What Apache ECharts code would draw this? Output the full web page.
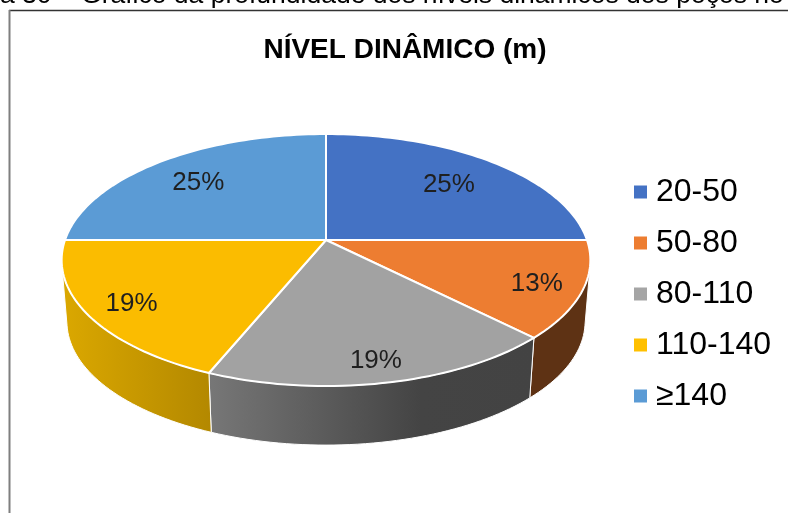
<!DOCTYPE html>
<html>
<head>
<meta charset="utf-8">
<style>
  html, body { margin: 0; padding: 0; background: #fff; }
  #main { width: 788px; height: 513px; }
</style>
<script src="https://cdn.jsdelivr.net/npm/echarts@6/dist/echarts.min.js"></script>
</head>
<body>
<div id="main"></div>
<script>
var categories = ['20-50', '50-80', '80-110', '110-140', '≥140']
var shares = [25, 12.5, 18.75, 18.75, 25]
var legendColors = ['#4472C4', '#ED7D31', '#A5A5A5', '#FFC000', '#5B9BD5']
var faceColors = ['#4472C4', '#ED7D31', '#A2A2A2', '#FBBC00', '#5B9BD5']
var caption = 'a 30 – Gráfico da profundidade dos níveis dinâmicos dos poços no'
var chartTitle = 'NÍVEL DINÂMICO (m)'

// perspective of the disc, fitted on the rim of the picture
var apexX = 326
var apexY = 240
var radiusX = 261
var radiusY = 122.8
var tilt = 0.159
var bottomApexY = 302
var bottomScale = 0.98
var sideFrom = 101
var sideTo = 259
var labelRadius = [0.72, 0.83, 0.85, 0.83, 0.75]
var total = shares.reduce(function (a, b) { return a + b }, 0)

function project(deg, r) {
  var t = deg * Math.PI / 180
  var u = Math.sin(t) * r
  var v = -Math.cos(t) * r
  var w = 1 - tilt * v
  return [apexX + radiusX * u / w, apexY + radiusY * v / w]
}

function projectBottom(deg) {
  var p = project(deg, 1)
  return [apexX + (p[0] - apexX) * bottomScale, bottomApexY + (p[1] - apexY) * bottomScale]
}

function rim(from, to, fn) {
  var pts = []
  var n = Math.max(2, Math.ceil((to - from) / 1.5))
  for (var i = 0; i <= n; i++) {
    pts.push(fn(from + (to - from) * i / n))
  }
  return pts
}

function sideFill(idx) {
  if (idx === 1) return '#5E3214'
  if (idx === 2) {
    return new echarts.graphic.LinearGradient(0, 0, 1, 0, [
      { offset: 0, color: '#777777' },
      { offset: 0.65, color: '#444444' },
      { offset: 1, color: '#434343' }
    ])
  }
  return new echarts.graphic.LinearGradient(0, 0, 1, 0, [
    { offset: 0, color: '#DBA800' },
    { offset: 1, color: '#B38800' }
  ])
}

function renderSlice(idx) {
  return function (params, api) {
    var value = api.value(0)
    var before = shares.slice(0, idx).reduce(function (a, b) { return a + b }, 0)
    var start = before / total * 360
    var end = start + value / total * 360
    var children = []

    var sFrom = Math.max(start, sideFrom)
    var sTo = Math.min(end, sideTo)
    if (sTo > sFrom) {
      var wall = rim(sFrom, sTo, function (d) { return project(d, 1) })
        .concat(rim(sFrom, sTo, projectBottom).reverse())
      children.push({
        type: 'polygon',
        shape: { points: wall },
        style: { fill: sideFill(idx), stroke: '#fff', lineWidth: 1 }
      })
    }

    var face = [[apexX, apexY]].concat(rim(start, end, function (d) { return project(d, 1) }))
    children.push({
      type: 'polygon',
      shape: { points: face },
      style: { fill: faceColors[idx], stroke: '#fff', lineWidth: 2, lineJoin: 'round' }
    })

    var mid = project((start + end) / 2, labelRadius[idx])
    children.push({
      type: 'text',
      z2: 10,
      style: {
        x: mid[0],
        y: mid[1] + 3,
        text: Math.round(value) + '%',
        fill: '#1f1f1f',
        font: '26px "Liberation Sans", Arial, sans-serif',
        align: 'center',
        verticalAlign: 'middle'
      }
    })
    return { type: 'group', children: children }
  }
}

var chart = echarts.init(document.getElementById('main'), null, { renderer: 'canvas' })

chart.setOption({
  animation: false,
  backgroundColor: '#fff',
  title: {
    text: chartTitle,
    left: 400,
    top: 31,
    textAlign: 'center',
    textStyle: {
      fontFamily: '"Liberation Sans", Arial, sans-serif',
      fontSize: 28,
      fontWeight: 'bold',
      color: '#000'
    }
  },
  legend: {
    orient: 'vertical',
    left: 629,
    top: 171,
    icon: 'rect',
    itemWidth: 13,
    itemHeight: 13,
    itemGap: 19,
    textStyle: {
      fontFamily: '"Liberation Sans", Arial, sans-serif',
      fontSize: 32,
      color: '#000',
      padding: [0, 0, 0, 4]
    },
    data: categories
  },
  graphic: [
    {
      type: 'line',
      silent: true,
      shape: { x1: 9, y1: 10.5, x2: 788, y2: 10.5 },
      style: { stroke: '#333333', lineWidth: 1.5 }
    },
    {
      type: 'line',
      silent: true,
      shape: { x1: 9.5, y1: 10, x2: 9.5, y2: 513 },
      style: { stroke: '#7F7F7F', lineWidth: 2 }
    },
    {
      type: 'text',
      silent: true,
      style: {
        x: 0,
        y: -18,
        text: caption,
        fill: '#000',
        font: '26.5px "Liberation Sans", Arial, sans-serif'
      }
    }
  ],
  series: categories.map(function (name, idx) {
    return {
      type: 'custom',
      name: name,
      coordinateSystem: 'none',
      itemStyle: { color: legendColors[idx] },
      data: [[shares[idx]]],
      renderItem: renderSlice(idx)
    }
  })
})
</script>
</body>
</html>
